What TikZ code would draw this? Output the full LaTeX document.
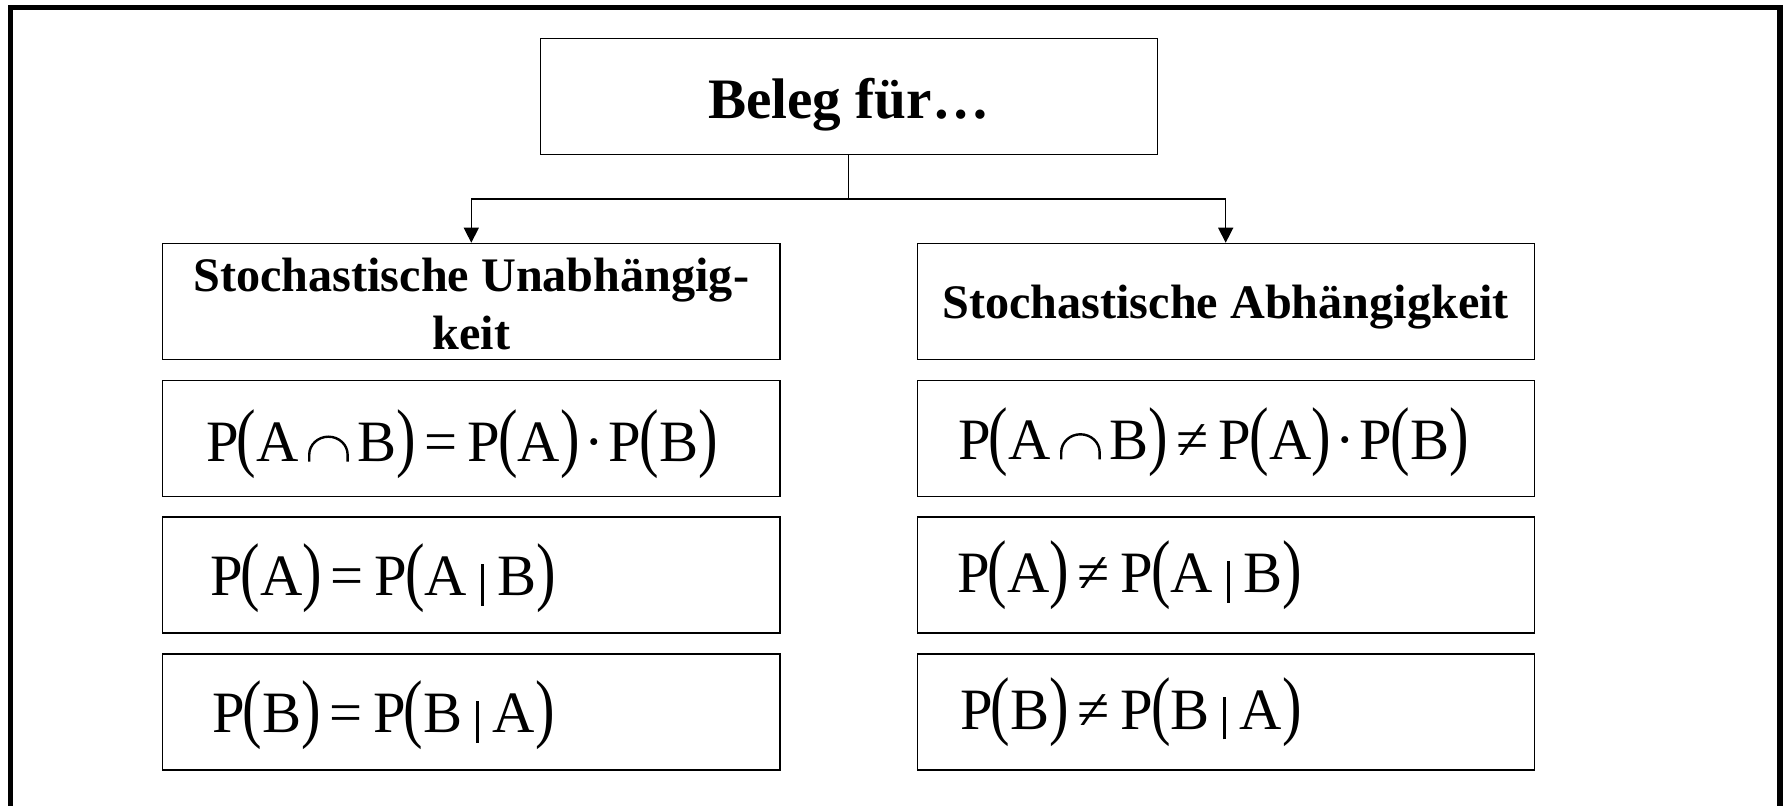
\documentclass[tikz,border=0pt]{standalone}
\usepackage{fontspec}
\setmainfont{Liberation Serif}
\usetikzlibrary{arrows.meta}

% stretched parentheses and symbols for the formulas
\newcommand{\lpar}{\raisebox{-0.5pt}{\scalebox{1}[1.3]{(}}}
\newcommand{\rpar}{\raisebox{-0.5pt}{\scalebox{1}[1.3]{)}}}
\newcommand{\isect}{\kern4.6pt\tikz[baseline=0pt,x=1pt,y=1pt]
  \draw[line width=1.2pt] (0,0) -- (0,3.5)
    arc[start angle=180,end angle=0,x radius=9.6pt,y radius=9pt] -- (19.2,0);\kern4.1pt}
\newcommand{\condbar}{\kern6.8pt\rule[-5pt]{1.5pt}{21pt}\kern6.8pt}
\newcommand{\eqsign}{\kern4.3pt=\kern5.3pt}
\newcommand{\nesign}{\kern4.3pt≠\kern5.3pt}
\newcommand{\timesdot}{\kern2.4pt·\kern2.4pt}

\tikzset{
  px/.style={x=0.5pt,y=-0.5pt},
  box/.style={draw,line width=0.55pt,inner sep=0pt,
    minimum width=308.65pt,minimum height=58pt},
  headfont/.style={font=\bfseries\fontsize{24.1pt}{29pt}\selectfont,align=center,
    text depth=0pt},
  formula/.style={inner sep=0pt,anchor=base west,
    font=\fontsize{29.3pt}{34pt}\selectfont},
  conn/.style={line width=0.7pt},
  arr/.style={conn,-{Triangle[length=7.5pt,width=7.5pt]}}
}

\begin{document}
\begin{tikzpicture}[px]
\useasboundingbox (0,0) rectangle (1785,806);

% outer frame, open at the bottom
\draw[line width=2.75pt] (10.7,806) -- (10.7,7.5) -- (1780,7.5) -- (1780,806);

% title box
\node[box,font=\bfseries\fontsize{28.6pt}{32pt}\selectfont,
  text height=22pt,text depth=0pt] (top) at (848.7,96.3) {Beleg für…};

% column headers
\node[box,headfont,text height=48.2pt] (lhead) at (471.3,301.3)
  {Stochastische Unabhängig-\\keit};
\node[box,headfont,text height=17.2pt] (rhead) at (1225.7,301.3)
  {Stochastische Abhängigkeit};

% formula boxes
\node[box] (l1) at (471.3,438.7) {};
\node[box] (l2) at (471.3,575) {};
\node[box] (l3) at (471.3,712) {};
\node[box] (r1) at (1225.7,438.7) {};
\node[box] (r2) at (1225.7,575) {};
\node[box] (r3) at (1225.7,712) {};

% formulas
\node[formula] (fl1) at (206,461.7)
  {P\kern-1pt\lpar A\isect B\rpar\eqsign P\kern-1pt\lpar A\rpar\timesdot P\kern-1pt\lpar B\rpar};
\node[formula] (fl2) at (210,596)
  {P\kern-1pt\lpar A\rpar\eqsign P\kern-1pt\lpar A\condbar B\rpar};
\node[formula] (fl3) at (212,732.7)
  {P\kern-1pt\lpar B\rpar\eqsign P\kern-1pt\lpar B\condbar A\rpar};
\node[formula] (fr1) at (958,459.3)
  {P\kern-1pt\lpar A\isect B\rpar\nesign P\kern-1pt\lpar A\rpar\timesdot P\kern-1pt\lpar B\rpar};
\node[formula] (fr2) at (957,592.7)
  {P\kern-1pt\lpar A\rpar\nesign P\kern-1pt\lpar A\condbar B\rpar};
\node[formula] (fr3) at (960,729.3)
  {P\kern-1pt\lpar B\rpar\nesign P\kern-1pt\lpar B\condbar A\rpar};

% connectors
\coordinate (split) at (848.7,199);
\draw[conn] (top) -- (split);
\draw[arr] (split) -| (lhead);
\draw[arr] (split) -| (rhead);
\end{tikzpicture}
\end{document}
